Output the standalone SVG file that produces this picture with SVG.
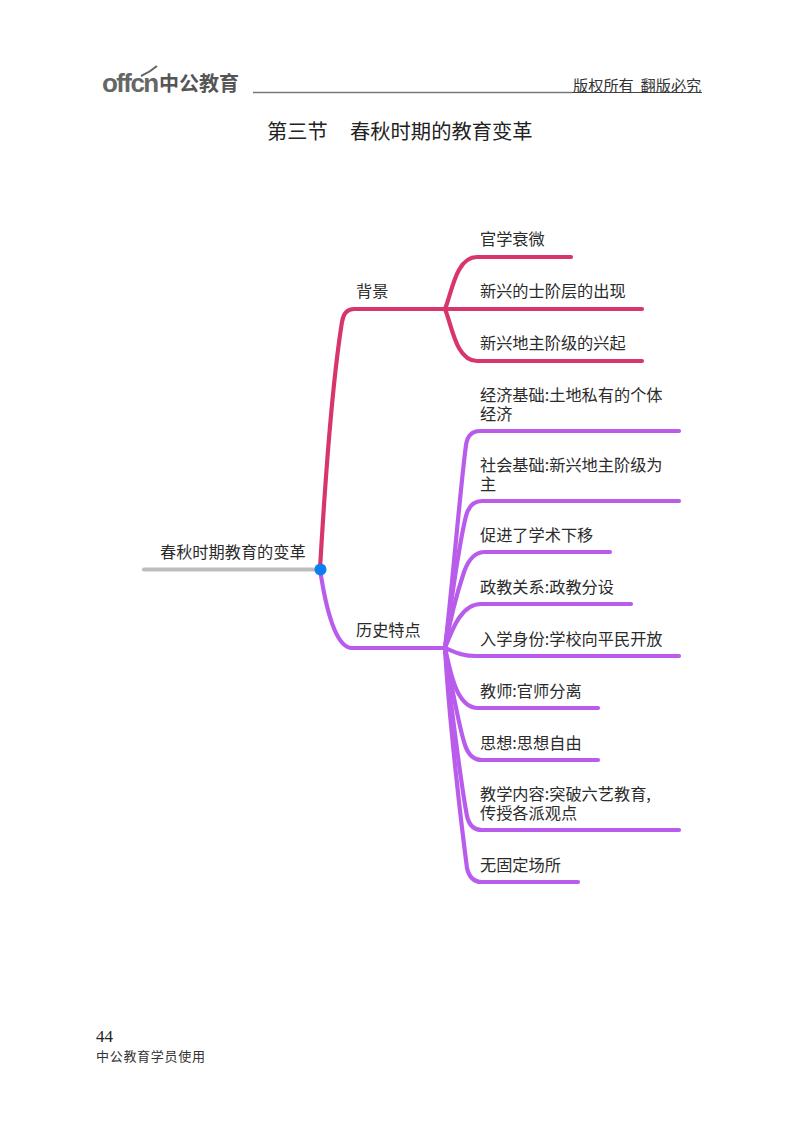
<svg xmlns="http://www.w3.org/2000/svg" width="800" height="1124" viewBox="0 0 800 1124">
<style>
text{font-family:"Noto Sans CJK SC","Liberation Sans",sans-serif;fill:#2b2b2b;font-size:16.200px}
.c{fill:none;stroke-width:4.200;stroke-linecap:round;stroke-linejoin:round}
.r{stroke:#d8356f}.p{stroke:#b95ceb}
</style>
<rect width="800" height="1124" fill="#fff"/>
<g id="header">
<text x="102" y="92" style="font-family:'Liberation Sans',sans-serif;font-size:26px;font-weight:700;fill:#666;letter-spacing:-1.600px">offcn</text>
<path d="M141 76Q150 72 157 66" fill="none" stroke="#666" stroke-width="2"/>
<text x="159" y="91" style="font-size:20px;fill:#555;font-weight:700">中公教育</text>
<line x1="253" y1="92.500" x2="572" y2="92.500" stroke="#777" stroke-width="1.500"/>
<line x1="572" y1="92.500" x2="702" y2="92.500" stroke="#444" stroke-width="1"/>
<text x="573" y="91" style="font-size:15.200px;fill:#333" xml:space="preserve">版权所有  翻版必究</text>
</g>
<g id="title">
<text x="267" y="139" style="font-size:20.200px;fill:#222">第三节</text>
<text x="350" y="139" style="font-size:20.300px;fill:#222">春秋时期的教育变革</text>
</g>
<g id="connectors">
<path class="c" d="M144 569.500H320" stroke="#bdbdbd"/>
<path class="c r" d="M320 569C324 500 331 390 342 322Q344 309 354 309H445"/>
<path class="c r" d="M445 309C452 292 456 257 477 257H571"/>
<path class="c r" d="M445 309H642"/>
<path class="c r" d="M445 309C452 326 456 361 477 361H642"/>
<path class="c p" d="M320 569C326 610 336 648 352 648H445"/>
<g class="c p">
<path d="M445 648C452 590 460 490 466 445Q468 431 480 431H679"/>
<path d="M445 648C450 610 460 540 466 516Q470 501 482 501H679"/>
<path d="M445 648C450 620 458 590 464 572Q471 552 485 552H610"/>
<path d="M445 648C452 630 461 604 481 604H631"/>
<path d="M445 648C455 652 462 656 476 656H679"/>
<path d="M445 648C450 670 456 708 478 708H598"/>
<path d="M445 648C450 680 460 730 465 745Q470 760 482 760H598"/>
<path d="M445 648C450 700 462 790 467 816Q470 830 482 830H679"/>
<path d="M445 648C449 720 462 830 467 868Q470 882 482 882H578"/>
</g>
</g>
<g id="root"><text x="160" y="557.500">春秋时期教育的变革</text><circle cx="320.500" cy="569.500" r="6" fill="#0f7ff0"/></g>
<g id="n-bg"><text x="356" y="296.500">背景</text></g>
<g id="n-ls"><text x="356" y="635.500">历史特点</text></g>
<g id="n1"><text x="480" y="244.500">官学衰微</text></g>
<g id="n2"><text x="480" y="296.500">新兴的士阶层的出现</text></g>
<g id="n3"><text x="480" y="348.500">新兴地主阶级的兴起</text></g>
<g id="n4"><text x="480" y="400.500">经济基础:土地私有的个体<tspan x="480" dy="19">经济</tspan></text></g>
<g id="n5"><text x="480" y="470.500">社会基础:新兴地主阶级为<tspan x="480" dy="19">主</tspan></text></g>
<g id="n6"><text x="480" y="540.500">促进了学术下移</text></g>
<g id="n7"><text x="480" y="592.500">政教关系:政教分设</text></g>
<g id="n8"><text x="480" y="644.500">入学身份:学校向平民开放</text></g>
<g id="n9"><text x="480" y="696.500">教师:官师分离</text></g>
<g id="n10"><text x="480" y="748.500">思想:思想自由</text></g>
<g id="n11"><text x="480" y="799.500">教学内容:突破六艺教育,<tspan x="480" dy="19">传授各派观点</tspan></text></g>
<g id="n12"><text x="480" y="870.500">无固定场所</text></g>
<g id="footer">
<text x="96" y="1042" style="font-family:'Liberation Serif',serif;font-size:17px;fill:#222">44</text>
<text x="96" y="1061" style="font-size:13px;fill:#333;letter-spacing:.700px">中公教育学员使用</text>
</g>
</svg>
